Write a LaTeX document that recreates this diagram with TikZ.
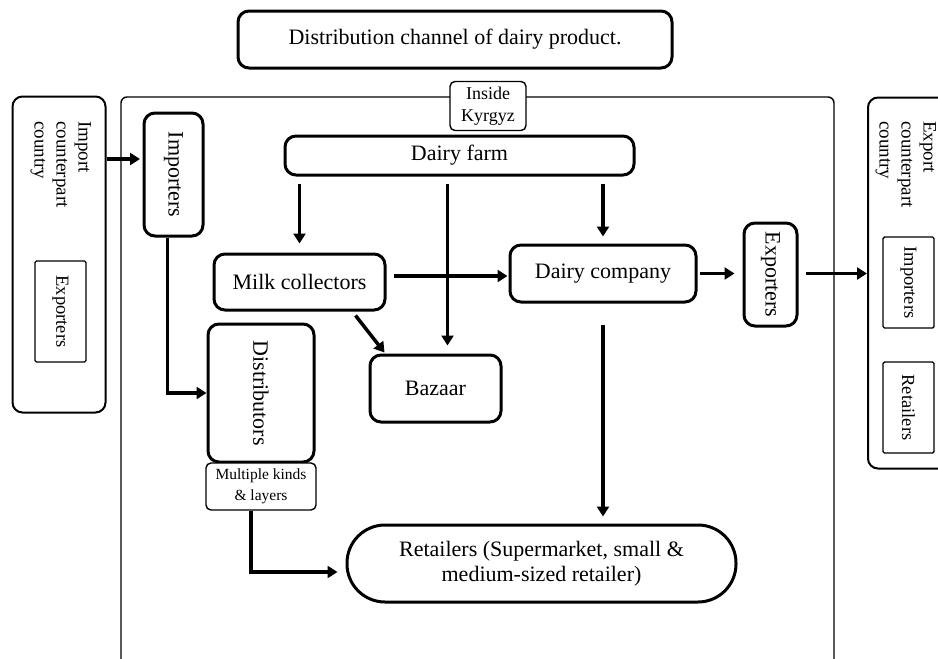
\documentclass[tikz,border=0pt]{standalone}
\usepackage{fontspec}
\setmainfont{Liberation Serif}
\usetikzlibrary{arrows.meta,calc}

\begin{document}
\begin{tikzpicture}[x=1pt,y=-1pt,
  box/.style={draw, line width=3pt, rounded corners=11pt, inner sep=0pt,
    align=center, fill=white, font=\fontsize{22}{26}\selectfont},
  thinbox/.style={draw, line width=1.4pt, inner sep=0pt, align=center, fill=white},
  country/.style={draw, line width=2pt, rounded corners=10pt, inner sep=0pt},
  countrylabel/.style={anchor=north, inner sep=0pt, font=\fontsize{19}{22}\selectfont},
  smalltext/.style={font=\fontsize{18.5}{22}\selectfont},
  arr/.style={line width=3.5pt, -{Triangle[length=10pt,width=12pt]}},
]
\useasboundingbox (0,0) rectangle (938,659);
\clip (0,0) rectangle (938,659);

% title
\node[box, minimum width=434pt, minimum height=57pt] (title) at (455,39.5)
  {Distribution channel of dairy product.};

% domestic frame (open at the bottom of the page)
\draw[line width=1.4pt, rounded corners=6pt] (121,662) -- (121,97) -- (834,97) -- (834,662);
\node[thinbox, rounded corners=5pt, minimum width=76pt, minimum height=49pt,
  font=\fontsize{18}{22}\selectfont] (ik) at (488,106) {Inside\\Kyrgyz};

% import side
\node[country, minimum width=93pt, minimum height=316pt] (impc) at (59,254.5) {};
\node[countrylabel] (impclab) at (61,121)
  {\rotatebox{-90}{\begin{tabular}{@{}l@{}}Import\\counterpart\\country\end{tabular}}};
\node[thinbox, smalltext, rounded corners=1.5pt, minimum width=51pt, minimum height=101pt]
  (impexp) at (60.5,311.5) {\rotatebox{-90}{Exporters}};

% export side
\node[country, minimum width=100pt, minimum height=371pt] (expc) at (918,283) {};
\node[countrylabel] (expclab) at (906,121)
  {\rotatebox{-90}{\begin{tabular}{@{}l@{}}Export\\counterpart\\country\end{tabular}}};
\node[thinbox, smalltext, rounded corners=1.5pt, minimum width=51pt, minimum height=91pt]
  (rimp) at (908.5,282.5) {\rotatebox{-90}{Importers}};
\node[thinbox, smalltext, rounded corners=1.5pt, minimum width=51pt, minimum height=91pt]
  (rret) at (908.5,407.5) {\rotatebox{-90}{Retailers}};

% actors inside the country
\node[box, minimum width=59pt, minimum height=123pt] (imp) at (173.5,174.5)
  {\rotatebox{-90}{Importers}};
\node[box, minimum width=349pt, minimum height=39pt] (farm) at (459.5,155.5) {Dairy farm};
\node[box, minimum width=171pt, minimum height=56pt] (milk) at (299.5,282) {Milk collectors};
\node[box, minimum width=186pt, minimum height=57pt] (dc) at (603,273.5) {Dairy company};
\node[box, minimum width=53pt, minimum height=103pt] (exp) at (770.5,274.5)
  {\rotatebox{-90}{Exporters}};
\node[box, minimum width=131pt, minimum height=67pt] (baz) at (435.5,388.5) {Bazaar};
\node[box, minimum width=106pt, minimum height=138pt] (dist) at (261,393)
  {\rotatebox{-90}{Distributors}};
\node[thinbox, rounded corners=5pt, minimum width=110pt, minimum height=47pt,
  font=\fontsize{15.5}{21}\selectfont] (multi) at (261,486.5) {Multiple kinds\\\& layers};
\node[box, rounded corners=38pt, minimum width=389pt, minimum height=77pt,
  font=\fontsize{22}{25}\selectfont] (ret) at (541.5,563.5)
  {Retailers (Supermarket, small \&\\medium-sized retailer)};

% helper points for connectors that meet a box off its centre line
\coordinate (impin) at (143,159);
\coordinate (bzin) at ([xshift=12pt]baz.north);
\coordinate (dcin) at ([yshift=-2.5pt]dc.west);
\coordinate (retin) at ([yshift=-8.5pt]ret.west);

% flows
\draw[arr, shorten >=3pt] (impc.east |- impin) -- (impin);
\draw[arr] ([xshift=-6pt]imp.south) |- (dist.west);
\draw[arr, shorten <=7pt, shorten >=9pt] (farm.south -| milk.north) -- (milk.north);
\draw[arr, shorten <=7pt, shorten >=8pt] (farm.south -| bzin) -- (bzin);
\draw[arr, shorten <=7pt, shorten >=7pt] (farm.south -| dc.north) -- (dc.north);
\draw[arr, shorten <=7pt, shorten >=1pt] (milk.east |- dcin) -- (dcin);
\draw[arr] ($(milk.south east)+(-31,4)$) -- ($(baz.north west)+(16,-1)$);
\draw[arr, shorten <=2pt, shorten >=8pt] (dc.east) -- (exp.west |- dc.east);
\draw[arr, shorten <=7pt] (exp.east |- dc.east) -- (expc.west |- dc.east);
\draw[arr, shorten <=21pt, shorten >=7pt] (dc.south) -- (ret.north -| dc.south);
\draw[arr, line width=4.5pt, shorten >=8pt] ([xshift=-10pt]multi.south) |- (retin);
\end{tikzpicture}
\end{document}
